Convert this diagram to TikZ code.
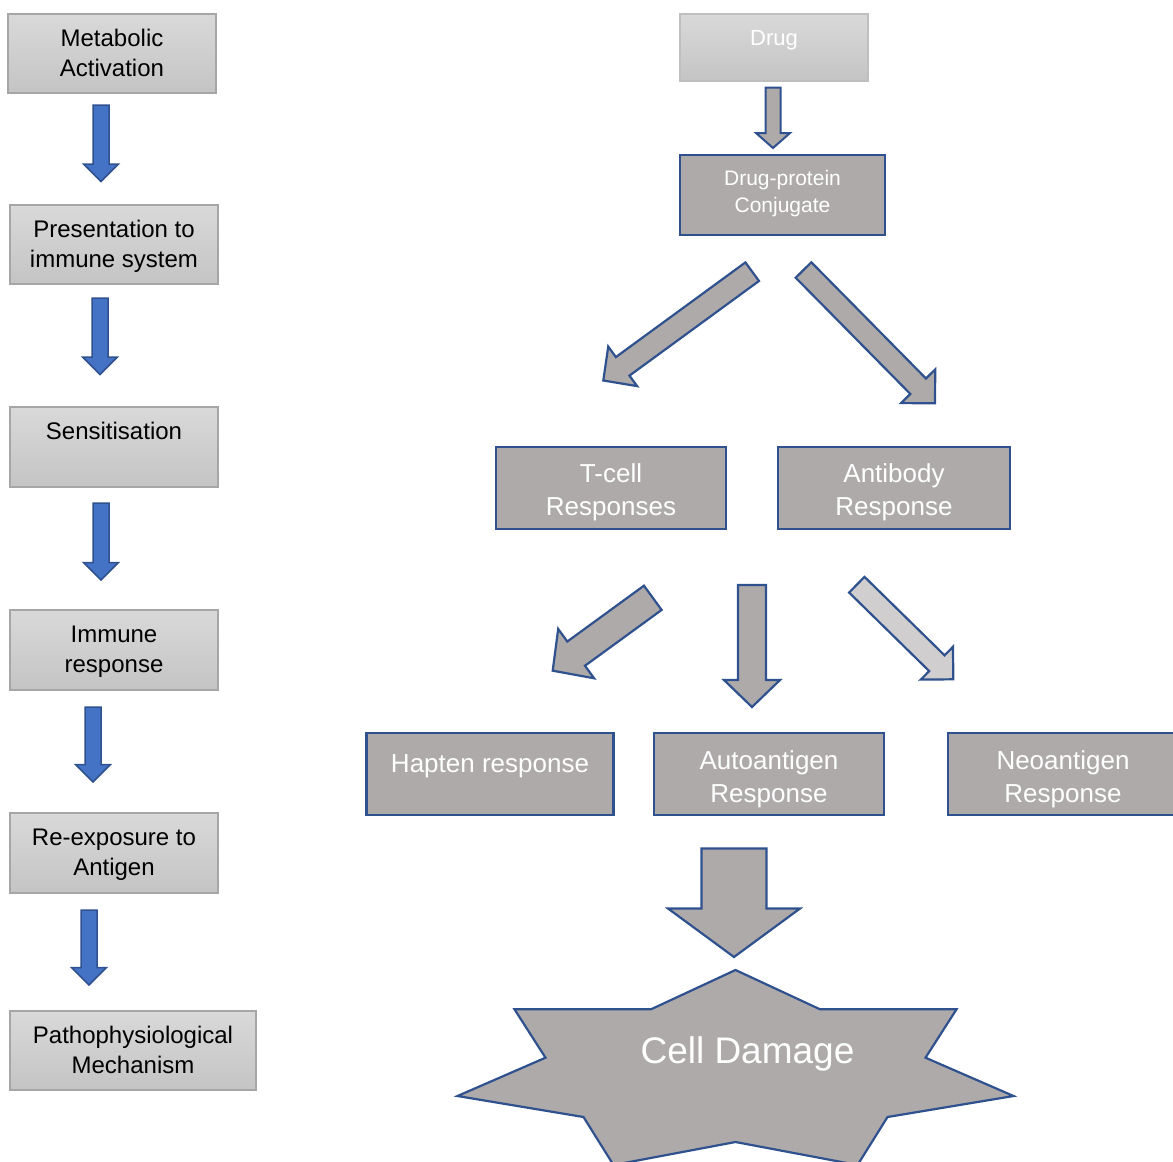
\documentclass[tikz,border=0pt]{standalone}
\usepackage{fontspec}
\setmainfont{Liberation Sans}
\usetikzlibrary{calc}
\definecolor{bluefill}{HTML}{4472C4}
\definecolor{blueline}{HTML}{2F528F}
\definecolor{boxgray}{HTML}{AEAAAA}
\definecolor{lightarrow}{HTML}{D0CECE}
\definecolor{gradtop}{HTML}{D9D9D9}
\definecolor{gradbot}{HTML}{C4C4C4}
\definecolor{gradline}{HTML}{A6A6A6}
\definecolor{drugline}{HTML}{BFBFBF}
% one text line whose caps are centred in a strut of one baselineskip, lifted by #1
\newcommand{\rline}[2]{\raisebox{#1}[\dimexpr0.5\baselineskip+0.358em\relax][\dimexpr0.5\baselineskip-0.358em\relax]{#2}}
% block arrow: style, tail coordinate, tip coordinate, half shaft width, half head width, head length
\newcommand{\blockarrow}[6]{%
  \path (#2) coordinate (ba-s) (#3) coordinate (ba-t);
  \path ($(ba-t)!#6!(ba-s)$) coordinate (ba-h);
  \draw[#1] ($(ba-s)!#4!90:(ba-t)$) -- ($(ba-h)!#4!90:(ba-t)$) -- ($(ba-h)!#5!90:(ba-t)$)
    -- (ba-t) -- ($(ba-h)!#5!-90:(ba-t)$) -- ($(ba-h)!#4!-90:(ba-t)$) -- ($(ba-s)!#4!-90:(ba-t)$) -- cycle;
}
\tikzset{
  leftbox/.style={draw=gradline, line width=1.2pt, top color=gradtop, bottom color=gradbot,
    minimum width=208pt, minimum height=79pt, inner sep=0pt, outer sep=0pt, align=center,
    font=\fontsize{24}{30}\selectfont, text=black},
  bluebox/.style={draw=blueline, line width=2.2pt, fill=boxgray, inner sep=0pt, outer sep=0pt,
    align=center, text=white, font=\fontsize{26}{33}\selectfont, minimum width=230pt, minimum height=82pt},
  bluearrow/.style={draw=blueline, fill=bluefill, line width=1.5pt, line join=miter},
  grayarrow/.style={draw=blueline, fill=boxgray, line width=2.2pt, line join=miter},
  lightgrayarrow/.style={draw=blueline, fill=lightarrow, line width=2.2pt, line join=miter},
}
\begin{document}
\begin{tikzpicture}[x=1pt, y=-1pt]
\useasboundingbox (0,0) rectangle (1173,1162);
\clip (0,0) rectangle (1173,1162);

% ---------- left column ----------
\node[leftbox] (meta) at (112,53.5) {\rline{1pt}{Metabolic}\\\rline{1pt}{Activation}};
\node[leftbox] (pres) at (114,244.5) {\rline{1pt}{Presentation to}\\\rline{1pt}{immune system}};
\node[leftbox, minimum height=80pt] (sens) at (114,447) {\rline{1pt}{Sensitisation}\\\rline{1pt}{}};
\node[leftbox, minimum height=80pt] (immu) at (114,650) {\rline{1pt}{Immune}\\\rline{1pt}{response}};
\node[leftbox, minimum height=80pt] (reex) at (114,853) {\rline{1pt}{Re-exposure to}\\\rline{1pt}{Antigen}};
\node[leftbox, minimum width=246pt] (path) at (133,1050.5) {\rline{1pt}{Pathophysiological}\\\rline{1pt}{Mechanism}};

\coordinate (l1s) at (101,105);  \coordinate (l1t) at (101,181.5);
\coordinate (l2s) at (100,298);  \coordinate (l2t) at (100,374.5);
\coordinate (l3s) at (101,503);  \coordinate (l3t) at (101,580);
\coordinate (l4s) at (93,707);   \coordinate (l4t) at (93,782);
\coordinate (l5s) at (89,910);   \coordinate (l5t) at (89,985);
\blockarrow{bluearrow}{l1s}{l1t}{8pt}{17.5pt}{17.5pt}
\blockarrow{bluearrow}{l2s}{l2t}{8pt}{17.5pt}{17.5pt}
\blockarrow{bluearrow}{l3s}{l3t}{8pt}{17.5pt}{17.5pt}
\blockarrow{bluearrow}{l4s}{l4t}{8pt}{17.5pt}{17.5pt}
\blockarrow{bluearrow}{l5s}{l5t}{8pt}{17.5pt}{17.5pt}

% ---------- right side ----------
\node[draw=drugline, line width=1.2pt, top color=gradtop, bottom color=gradbot, minimum width=188pt,
  minimum height=67pt, inner sep=0pt, text=white, font=\fontsize{22}{27}\selectfont] (drug) at (774,47.5)
  {\rline{9.5pt}{Drug}};
\node[bluebox, minimum width=205pt, minimum height=80pt, font=\fontsize{21}{26.5}\selectfont] (conj) at (782.5,195)
  {\rline{3.5pt}{Drug-protein}\\\rline{3.5pt}{Conjugate}};

\coordinate (d1s) at (773,87.5); \coordinate (d1t) at (773,148);
\blockarrow{grayarrow, line width=2pt}{d1s}{d1t}{7.5pt}{17pt}{15pt}

\coordinate (cas) at (752.2,271.7); \coordinate (cat) at (603.3,380.5);
\coordinate (cbs) at (803.5,270);   \coordinate (cbt) at (935,403.3);
\blockarrow{grayarrow}{cas}{cat}{11.5pt}{24.5pt}{24pt}
\blockarrow{grayarrow}{cbs}{cbt}{11pt}{24pt}{24pt}

\node[bluebox] (tcell) at (611,488) {\rline{-2pt}{T-cell}\\\rline{-2pt}{Responses}};
\node[bluebox, minimum width=232pt] (anti) at (894,488) {\rline{-2pt}{Antibody}\\\rline{-2pt}{Response}};

\coordinate (ccs) at (652.8,597.8); \coordinate (cct) at (552.7,670.7);
\coordinate (cds) at (752,585);     \coordinate (cdt) at (752,707);
\coordinate (ces) at (856.8,584.7); \coordinate (cet) at (953.3,679.3);
\blockarrow{grayarrow}{ccs}{cct}{15pt}{30.5pt}{29pt}
\blockarrow{grayarrow}{cds}{cdt}{14pt}{28pt}{27pt}
\blockarrow{lightgrayarrow}{ces}{cet}{11pt}{23pt}{23pt}

\node[bluebox, minimum width=247pt] (hapt) at (490,774) {\rline{11pt}{Hapten response}};
\node[bluebox] (auto) at (769,774) {\rline{-2.5pt}{Autoantigen}\\\rline{-2.5pt}{Response}};
\node[bluebox] (neo) at (1063,774) {\rline{-2.5pt}{Neoantigen}\\\rline{-2.5pt}{Response}};

\coordinate (cfs) at (734,848.5); \coordinate (cft) at (734,957);
\blockarrow{grayarrow}{cfs}{cft}{32.5pt}{66pt}{48.5pt}

% ---------- star ----------
\draw[grayarrow] (735.5,970) -- (820,1009.3) -- (956.5,1009.3) -- (925.5,1057.7) -- (1013.5,1096)
  -- (887.5,1117) -- (857.5,1165) -- (735.5,1142) -- (613.5,1165) -- (583.5,1117)
  -- (457.5,1096) -- (545.5,1057.7) -- (514.5,1009.3) -- (651,1009.3) -- cycle;
\node[text=white, font=\fontsize{37}{44}\selectfont, inner sep=0pt] (cell) at (747.5,1050) {\rline{0pt}{Cell Damage}};
\end{tikzpicture}
\end{document}
